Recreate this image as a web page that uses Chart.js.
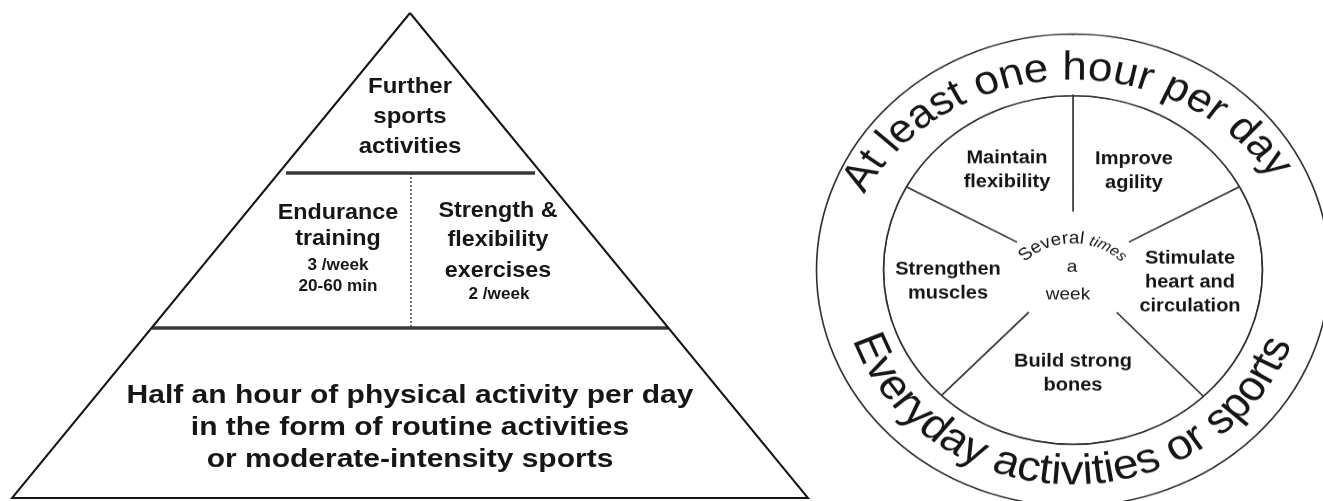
<!DOCTYPE html>
<html>
<head>
<meta charset="utf-8">
<title>Physical activity pyramid and wheel</title>
<script src="https://cdn.jsdelivr.net/npm/chart.js@4.4.1/dist/chart.umd.min.js"></script>
<style>
  html, body { margin: 0; padding: 0; background: #fff; }
  #page { position: relative; width: 1323px; height: 501px; overflow: hidden; }
  #pyramidBox { position: absolute; left: 0; top: 0; width: 820px; height: 501px; }
  /* the wheel in the source picture is a little flattened */
  #wheelBox { position: absolute; left: 803px; top: 0; width: 540px; height: 540px;
              transform-origin: 270px 270px; transform: scaleY(0.92); }
</style>
</head>
<body>
<div id="page">
  <div id="pyramidBox"><canvas id="pyramid"></canvas></div>
  <div id="wheelBox"><canvas id="wheel"></canvas></div>
</div>
<script>
// ---- pyramid (left) ----
// outline: apex, bottom left, bottom right, back to apex
const pyramidX = [410, 12, 808, 410];
const pyramidY = [13, 498, 498, 13];
// tier boundaries
const tierY = [173, 328];
const tierLeftX = [286, 152];
const tierRightX = [535, 668];
const splitX = 411; // dotted line between the middle boxes

const topTier = ['Further', 'sports', 'activities'];
const enduranceLines = ['Endurance', 'training'];
const enduranceDose = ['3 /week', '20-60 min'];
const strengthLines = ['Strength &', 'flexibility', 'exercises'];
const strengthDose = ['2 /week'];
const baseTier = ['Half an hour of physical activity per day', 'in the form of routine activities', 'or moderate-intensity sports'];

// ---- wheel (right) ----
const benefitNames = ['Improve agility', 'Stimulate heart and circulation', 'Build strong bones', 'Strengthen muscles', 'Maintain flexibility'];
const benefitLines = [['Improve', 'agility'], ['Stimulate', 'heart and', 'circulation'], ['Build strong', 'bones'], ['Strengthen', 'muscles'], ['Maintain', 'flexibility']];
const benefitSpans = [61.5, 75, 87.5, 74.5, 61.5]; // degrees, clockwise from the top spoke
const dailyRing = [360];
const ringTop = 'At least one hour per day';
const ringBottom = 'Everyday activities or sports';
const centreArc = ['Several ', 'times'];
const centreLines = ['a', 'week'];

const INK = '#161616';
const FONT = '"Liberation Sans", Arial, sans-serif';

function stretchedText(ctx, text, x, y, stretch) {
  ctx.save();
  ctx.translate(x, y);
  ctx.scale(stretch, 1);
  ctx.fillText(text, 0, 0);
  ctx.restore();
}

// pyramid texts, anchored in data units
const pyramidLabels = {
  id: 'pyramidLabels',
  afterDatasetsDraw(chart) {
    const ctx = chart.ctx, sx = chart.scales.x, sy = chart.scales.y;
    ctx.save();
    ctx.fillStyle = INK;
    ctx.textAlign = 'center';
    ctx.textBaseline = 'middle';
    const block = (lines, x, ys, size, stretch) => {
      ctx.font = 'bold ' + size + 'px ' + FONT;
      lines.forEach((t, i) => stretchedText(ctx, t, sx.getPixelForValue(x), sy.getPixelForValue(ys[i]), stretch));
    };
    block(topTier, 410, [87, 117, 147], 22, 1.09);
    block(enduranceLines, 338, [212.5, 239], 22, 1.06);
    block(enduranceDose, 338, [266, 286.5], 16, 1.07);
    block(strengthLines, 498, [210.5, 240, 270.5], 22, 1.06);
    block(strengthDose, 499, [295], 16, 1.07);
    block(baseTier, 410, [396, 428, 460], 25, 1.2);
    ctx.restore();
  }
};

const segment = (xs, ys, extra) => Object.assign({
  data: xs.map((x, i) => ({ x: x, y: ys[i] })),
  showLine: true, pointRadius: 0, fill: false, tension: 0, clip: false,
  borderColor: INK, borderWidth: 2, borderJoinStyle: 'miter'
}, extra);

new Chart(document.getElementById('pyramid'), {
  type: 'scatter',
  data: {
    datasets: [
      segment(pyramidX, pyramidY),
      segment([tierLeftX[0], tierRightX[0]], [tierY[0], tierY[0]], { borderColor: '#383838', borderWidth: 3.5 }),
      segment([tierLeftX[1], tierRightX[1]], [tierY[1], tierY[1]], { borderColor: '#383838', borderWidth: 3.5 }),
      segment([splitX, splitX], tierY, { borderColor: '#444', borderWidth: 1.5, borderDash: [2, 2] })
    ]
  },
  options: {
    responsive: true,
    maintainAspectRatio: false,
    animation: false,
    events: [],
    layout: { padding: 0 },
    scales: {
      x: { type: 'linear', min: 0, max: 820, display: false },
      y: { type: 'linear', min: 0, max: 501, reverse: true, display: false }
    },
    plugins: { legend: { display: false }, tooltip: { enabled: false } }
  },
  plugins: [pyramidLabels]
});

// draw a string letter by letter along a circle
function arcText(ctx, parts, cx, cy, r, mid, inward) {
  const glyphs = [];
  let total = 0;
  parts.forEach(p => {
    ctx.font = p.font;
    for (const ch of p.text) {
      const w = ctx.measureText(ch).width;
      glyphs.push({ ch: ch, w: w, font: p.font });
      total += w;
    }
  });
  const dir = inward ? -1 : 1;
  let a = mid - dir * total / (2 * r);
  glyphs.forEach(g => {
    const ang = a + dir * g.w / (2 * r);
    ctx.save();
    ctx.font = g.font;
    ctx.translate(cx + r * Math.cos(ang), cy + r * Math.sin(ang));
    ctx.rotate(ang + dir * Math.PI / 2);
    ctx.fillText(g.ch, 0, 0);
    ctx.restore();
    a += dir * g.w / r;
  });
}

const wheelLabels = {
  id: 'wheelLabels',
  afterDatasetsDraw(chart) {
    const ctx = chart.ctx;
    const arc = chart.getDatasetMeta(1).data[0];
    const ring = chart.getDatasetMeta(0).data[0];
    const cx = arc.x, cy = arc.y;
    ctx.save();
    // clear the hub so the spokes stop short of the centre
    ctx.fillStyle = '#fff';
    ctx.beginPath();
    ctx.arc(cx, cy, arc.innerRadius + 1.5, 0, Math.PI * 2);
    ctx.fill();
    // the single-value ring is closed with a radial edge; the source has none
    ctx.strokeStyle = '#fff';
    ctx.lineWidth = 3;
    ctx.beginPath();
    ctx.moveTo(cx + (ring.innerRadius + 1.3) * Math.cos(ring.startAngle), cy + (ring.innerRadius + 1.3) * Math.sin(ring.startAngle));
    ctx.lineTo(cx + (ring.outerRadius - 1.3) * Math.cos(ring.startAngle), cy + (ring.outerRadius - 1.3) * Math.sin(ring.startAngle));
    ctx.stroke();

    ctx.fillStyle = INK;
    ctx.textAlign = 'center';
    ctx.textBaseline = 'middle';
    ctx.font = 'bold 20px ' + FONT;
    const anchors = [[61, -121], [117, -13], [0, 99.5], [-125, -1], [-66, -122]];
    benefitLines.forEach((lines, i) => {
      lines.forEach((t, j) => ctx.fillText(t, cx + anchors[i][0], cy + anchors[i][1] + j * 26));
    });

    ctx.font = '19px ' + FONT;
    ctx.fillText(centreLines[0], cx - 1, cy - 3.5);
    ctx.fillText(centreLines[1], cx - 5, cy + 27);

    ctx.textBaseline = 'alphabetic';
    arcText(ctx, [{ text: centreArc[0], font: '19px ' + FONT }, { text: centreArc[1], font: 'italic 16px ' + FONT }],
      cx, cy + 38.6, 67.6, -Math.PI / 2, false);
    arcText(ctx, [{ text: ringTop, font: '44px ' + FONT }], cx, cy + 30, 237, -Math.PI / 2 - 0.04, false);
    arcText(ctx, [{ text: ringBottom, font: '46px ' + FONT }], cx, cy, 233, Math.PI / 2 + 0.01, true);
    ctx.restore();
  }
};

new Chart(document.getElementById('wheel'), {
  type: 'doughnut',
  data: {
    labels: benefitNames,
    datasets: [
      { label: 'Everyday activities or sports', data: dailyRing, weight: 67,
        backgroundColor: '#fff', borderColor: '#2e2e2e', borderWidth: 1.6 },
      { label: 'Several times a week', data: benefitSpans, weight: 127.5,
        backgroundColor: '#fff', borderColor: '#3a3a3a', borderWidth: 1.6 }
    ]
  },
  options: {
    responsive: true,
    maintainAspectRatio: false,
    animation: false,
    events: [],
    radius: 256.5,
    cutout: '24.2%',
    layout: { padding: 0 },
    plugins: { legend: { display: false }, tooltip: { enabled: false } }
  },
  plugins: [wheelLabels]
});
</script>
</body>
</html>
